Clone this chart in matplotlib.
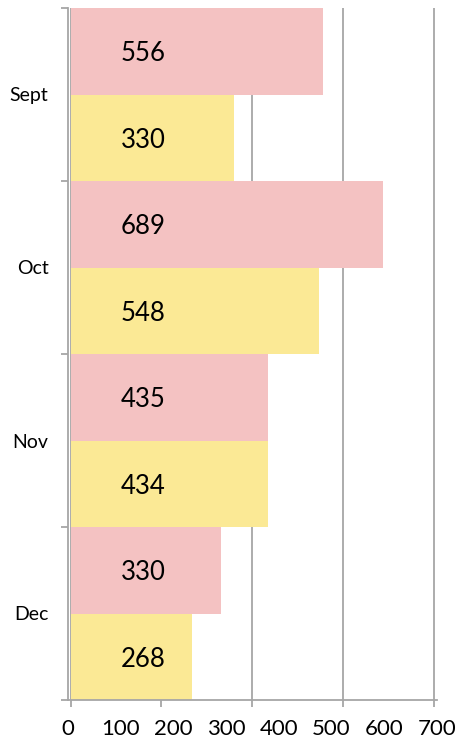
import matplotlib
matplotlib.use("Agg")
import matplotlib.pyplot as plt
import numpy as np

plt.rcParams['font.family'] = ['Lato', 'DejaVu Sans']

categories = ["Sept", "Oct", "Nov", "Dec"]
pink_values = [556, 689, 435, 330]
yellow_values = [360, 548, 434, 268]
pink_labels = ["556", "689", "435", "330"]
yellow_labels = ["330", "548", "434", "268"]
x_tick_labels = ["0", "100", "200", "300", "400", "500", "600", "700"]

pink = "#F4C2C2"
yellow = "#FBE995"
grid_c = "#A6A6A6"

fig = plt.figure(figsize=(4.63, 7.41), dpi=100)
ax = fig.add_axes([68/463, 1-700/741, 369/463, 692/741])

y = np.arange(len(categories))
ax.barh(y - 0.25, pink_values, height=0.5, color=pink, zorder=2)
ax.barh(y + 0.25, yellow_values, height=0.5, color=yellow, zorder=2)

for yi, lab in zip(y, pink_labels):
    ax.text(160, yi - 0.25, lab, ha='center', va='center_baseline', fontsize=18.5, color='black', zorder=3)
for yi, lab in zip(y, yellow_labels):
    ax.text(160, yi + 0.25, lab, ha='center', va='center_baseline', fontsize=18.5, color='black', zorder=3)

ax.set_xlim(0, 800)
ax.set_ylim(len(categories) - 0.5, -0.5)

ax.set_xticks([0, 200, 400, 600, 800])
ax.set_xticklabels([])
ax.xaxis.grid(True, color=grid_c, linewidth=1.3, zorder=1)
ax.set_axisbelow(True)

lab_pos = np.linspace(-6, 807, len(x_tick_labels))
ax.set_xticks(lab_pos, minor=True)
ax.set_xticklabels(x_tick_labels, minor=True, fontsize=16)
ax.tick_params(axis='x', which='minor', length=0, pad=14)
ax.tick_params(axis='x', which='major', length=5, color=grid_c, width=1.3, direction='out')

ax.set_yticks(np.arange(-0.5, len(categories), 1.0))
ax.set_yticklabels([])
ax.set_yticks(y, minor=True)
ax.set_yticklabels(categories, minor=True, fontsize=14)
ax.tick_params(axis='y', which='minor', length=0, pad=14)
ax.tick_params(axis='y', which='major', length=5, color=grid_c, width=1.3, direction='out')

for s in ['top', 'right']:
    ax.spines[s].set_visible(False)
for s in ['left', 'bottom']:
    ax.spines[s].set_color(grid_c)
    ax.spines[s].set_linewidth(1.3)

fig.savefig("out.png", dpi=100)
